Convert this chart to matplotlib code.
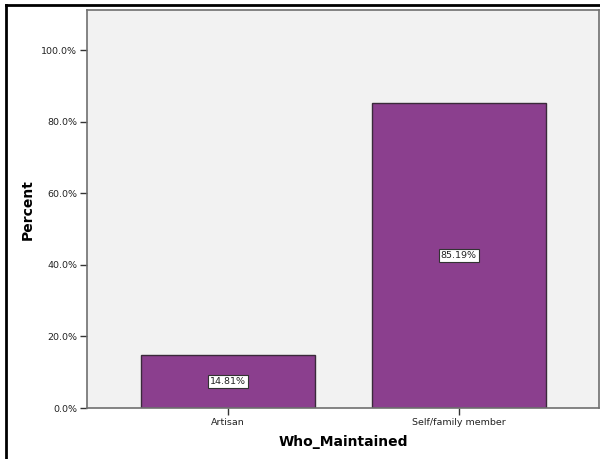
import matplotlib
matplotlib.use("Agg")
import matplotlib.pyplot as plt
from matplotlib.lines import Line2D
from matplotlib.ticker import FuncFormatter, MultipleLocator

categories = ["Artisan", "Self/family member"]
percents = [14.81, 85.19]
bar_labels = ["14.81%", "85.19%"]

fig = plt.figure(figsize=(6.0, 4.59), dpi=100)
ax = fig.add_axes([0.145, 0.111, 0.853, 0.867])
ax.set_facecolor("#F2F2F2")

x = list(range(len(categories)))
ax.bar(x, percents, width=0.753, color="#8B3F8E", edgecolor="#3A2A3A", linewidth=1.0, zorder=2)

for xi, v, lab in zip(x, percents, bar_labels):
    ax.text(xi, v / 2, lab, ha="center", va="center", fontsize=6.8, color="#222222",
            bbox=dict(boxstyle="square,pad=0.2", facecolor="white", edgecolor="#333333", linewidth=0.8),
            zorder=3)

ax.set_xlim(-0.61, 1.606)
ax.set_ylim(0, 111.2)
ax.yaxis.set_major_locator(MultipleLocator(20))
ax.yaxis.set_major_formatter(FuncFormatter(lambda v, p: f"{v:.1f}%" if v <= 100 else ""))
ax.set_xticks(x)
ax.set_xticklabels(categories)
ax.tick_params(axis="both", labelsize=6.8, length=5, width=1, color="#333333", labelcolor="#222222", pad=2)

for s in ax.spines.values():
    s.set_color("#707070")
    s.set_linewidth(1.2)

ax.set_ylabel("Percent", fontsize=10, fontweight="bold")
ax.yaxis.set_label_coords(-(87 - 35) / 512, 0.5)
ax.set_xlabel("Who_Maintained", fontsize=10, fontweight="bold", labelpad=6)

# outer frame lines (top and left)
fig.add_artist(Line2D([6 / 600, 1.0], [1 - 5 / 459, 1 - 5 / 459], transform=fig.transFigure, color="black", linewidth=2))
fig.add_artist(Line2D([6 / 600, 6 / 600], [0, 1 - 5 / 459], transform=fig.transFigure, color="black", linewidth=2))

fig.savefig("out.png", dpi=100)
